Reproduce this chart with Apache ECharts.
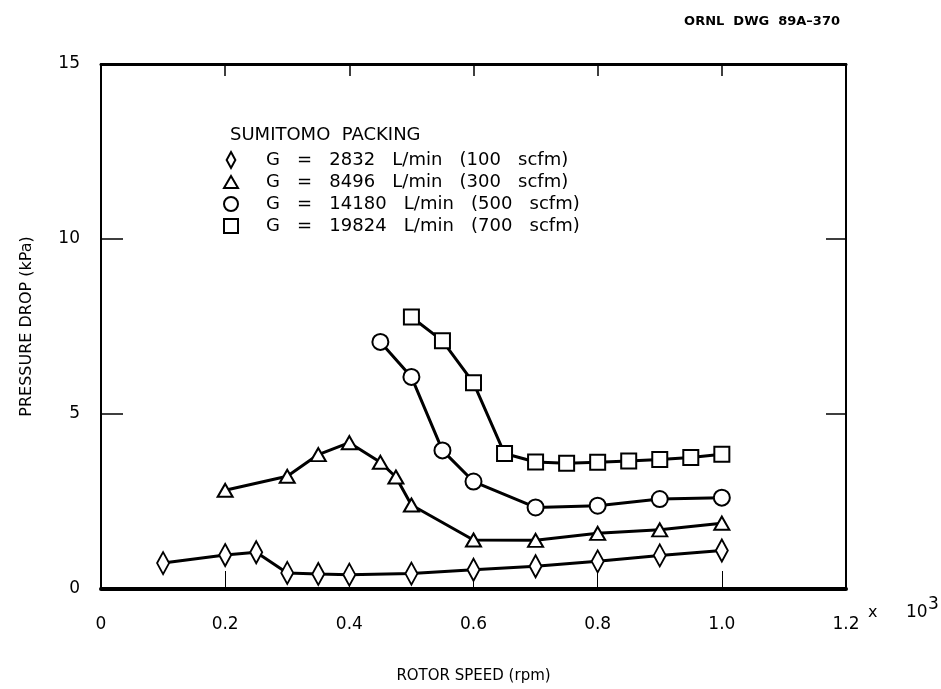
<!DOCTYPE html>
<html>
<head>
<meta charset="utf-8">
<script src="https://cdn.jsdelivr.net/npm/echarts@6/dist/echarts.min.js"></script>
<style>
html,body{margin:0;padding:0;background:#fff;}
#c{width:941px;height:689px;}
</style>
</head>
<body>
<div id="c"></div>
<script>
// ---- data (rotor speed in thousands of rpm, pressure drop in kPa) ----
const xTicks = [0, 0.2, 0.4, 0.6, 0.8, 1.0, 1.2];
const yTicks = [0, 5, 10, 15];

const legendTitle = 'SUMITOMO  PACKING';
const names = [
  'G   =   2832   L/min   (100   scfm)',
  'G   =   8496   L/min   (300   scfm)',
  'G   =   14180   L/min   (500   scfm)',
  'G   =   19824   L/min   (700   scfm)'
];

const g100X = [0.1, 0.2, 0.25, 0.3, 0.35, 0.4, 0.5, 0.6, 0.7, 0.8, 0.9, 1.0];
const g100Y = [0.74, 0.97, 1.05, 0.46, 0.43, 0.41, 0.44, 0.55, 0.65, 0.79, 0.96, 1.10];

const g300X = [0.2, 0.3, 0.35, 0.4, 0.45, 0.475, 0.5, 0.6, 0.7, 0.8, 0.9, 1.0];
const g300Y = [2.82, 3.22, 3.84, 4.18, 3.62, 3.20, 2.40, 1.40, 1.39, 1.59, 1.69, 1.88];

const g500X = [0.45, 0.5, 0.55, 0.6, 0.7, 0.8, 0.9, 1.0];
const g500Y = [7.06, 6.06, 3.96, 3.07, 2.33, 2.38, 2.57, 2.61];

const g700X = [0.5, 0.55, 0.6, 0.65, 0.7, 0.75, 0.8, 0.85, 0.9, 0.95, 1.0];
const g700Y = [7.77, 7.09, 5.89, 3.87, 3.63, 3.59, 3.62, 3.66, 3.70, 3.76, 3.85];

const pair = (xs, ys) => xs.map((x, i) => [x, ys[i]]);

const FONT = '"DejaVu Sans", "Liberation Sans", sans-serif';
const hollow = { color: '#fff', borderColor: '#000', borderWidth: 2 };
const lineSt = { color: '#000', width: 3 };

function mkSeries(name, data, symbol, size) {
  return {
    name: name, type: 'line', data: data,
    symbol: symbol, symbolSize: size, showAllSymbol: true,
    itemStyle: hollow, lineStyle: lineSt,
    emphasis: { disabled: true }, animation: false, z: 3
  };
}

const chart = echarts.init(document.getElementById('c'), null, { renderer: 'canvas' });
const fmtX = v => (v === 0 ? '0' : v.toFixed(1));

chart.setOption({
  backgroundColor: '#fff',
  animation: false,
  textStyle: { fontFamily: FONT, color: '#000' },
  title: {
    text: legendTitle,
    left: 230, top: 126, padding: 0,
    textStyle: { fontFamily: FONT, fontSize: 18, fontWeight: 'normal', color: '#000' }
  },
  legend: {
    orient: 'vertical', left: 223, top: 151, padding: 0,
    itemWidth: 14, itemHeight: 16, itemGap: 4,
    selectedMode: false,
    itemStyle: { color: '#fff', borderColor: '#000', borderWidth: 2 },
    textStyle: { fontFamily: FONT, fontSize: 18, color: '#000', padding: [0, 0, 0, 23] },
    data: [
      { name: names[0], icon: 'path://M6,0L12,11L6,22L0,11Z' },
      { name: names[1], icon: 'path://M7,0L14,12L0,12Z' },
      { name: names[2], icon: 'circle' },
      { name: names[3], icon: 'path://M0,0H12V12H0Z' }
    ]
  },
  grid: { left: 101, right: 95, top: 64, bottom: 98, containLabel: false },
  xAxis: [{
    type: 'value', min: 0, max: 1.2, interval: 0.2, position: 'bottom',
    name: 'ROTOR SPEED (rpm)', nameLocation: 'middle', nameGap: 80,
    nameTextStyle: { fontFamily: FONT, fontSize: 15, color: '#000' },
    axisLine: { show: true, onZero: false, lineStyle: { color: '#000', width: 4 } },
    axisTick: { show: true, inside: true, length: 18, lineStyle: { color: '#000', width: 1 } },
    axisLabel: { formatter: fmtX, fontFamily: FONT, fontSize: 17, color: '#000', margin: 27 },
    splitLine: { show: false }
  }, {
    type: 'value', min: 0, max: 1.2, interval: 0.2, position: 'top',
    axisLine: { show: true, onZero: false, lineStyle: { color: '#000', width: 3 } },
    axisTick: { show: true, inside: true, length: 12, lineStyle: { color: '#000', width: 1.5 } },
    axisLabel: { show: false }, splitLine: { show: false }
  }],
  yAxis: [{
    type: 'value', min: 0, max: 15, interval: 5, position: 'left',
    name: 'PRESSURE DROP (kPa)', nameLocation: 'middle', nameGap: 66, nameRotate: 90,
    nameTextStyle: { fontFamily: FONT, fontSize: 16, color: '#000' },
    axisLine: { show: true, onZero: false, lineStyle: { color: '#000', width: 2 } },
    axisTick: { show: true, inside: true, length: 22, lineStyle: { color: '#000', width: 1.5 } },
    axisLabel: { fontFamily: FONT, fontSize: 17, color: '#000', margin: 21 },
    splitLine: { show: false }
  }, {
    type: 'value', min: 0, max: 15, interval: 5, position: 'right',
    axisLine: { show: true, onZero: false, lineStyle: { color: '#000', width: 2 } },
    axisTick: { show: true, inside: true, length: 20, lineStyle: { color: '#000', width: 1.5 } },
    axisLabel: { show: false }, splitLine: { show: false }
  }],
  graphic: [
    {
      type: 'text', right: 941 - 840, top: 15,
      style: { text: 'ORNL  DWG  89A\u2013370', font: 'bold 13px ' + FONT, fill: '#000' }
    },
    {
      type: 'text', left: 868, top: 596,
      style: {
        text: '{a|x}{b|10}{c|3}',
        rich: {
          a: { fontFamily: FONT, fontSize: 16, fill: '#000', width: 38, verticalAlign: 'bottom' },
          b: { fontFamily: FONT, fontSize: 17, fill: '#000', width: 22, verticalAlign: 'bottom' },
          c: { fontFamily: FONT, fontSize: 17, fill: '#000', verticalAlign: 'bottom', padding: [0, 0, 8, 0] }
        }
      }
    }
  ],
  series: [
    mkSeries(names[0], pair(g100X, g100Y), 'diamond', [12, 22]),
    mkSeries(names[1], pair(g300X, g300Y), 'triangle', [15, 13]),
    mkSeries(names[2], pair(g500X, g500Y), 'circle', 16),
    mkSeries(names[3], pair(g700X, g700Y), 'rect', 15)
  ]
});
</script>
</body>
</html>
